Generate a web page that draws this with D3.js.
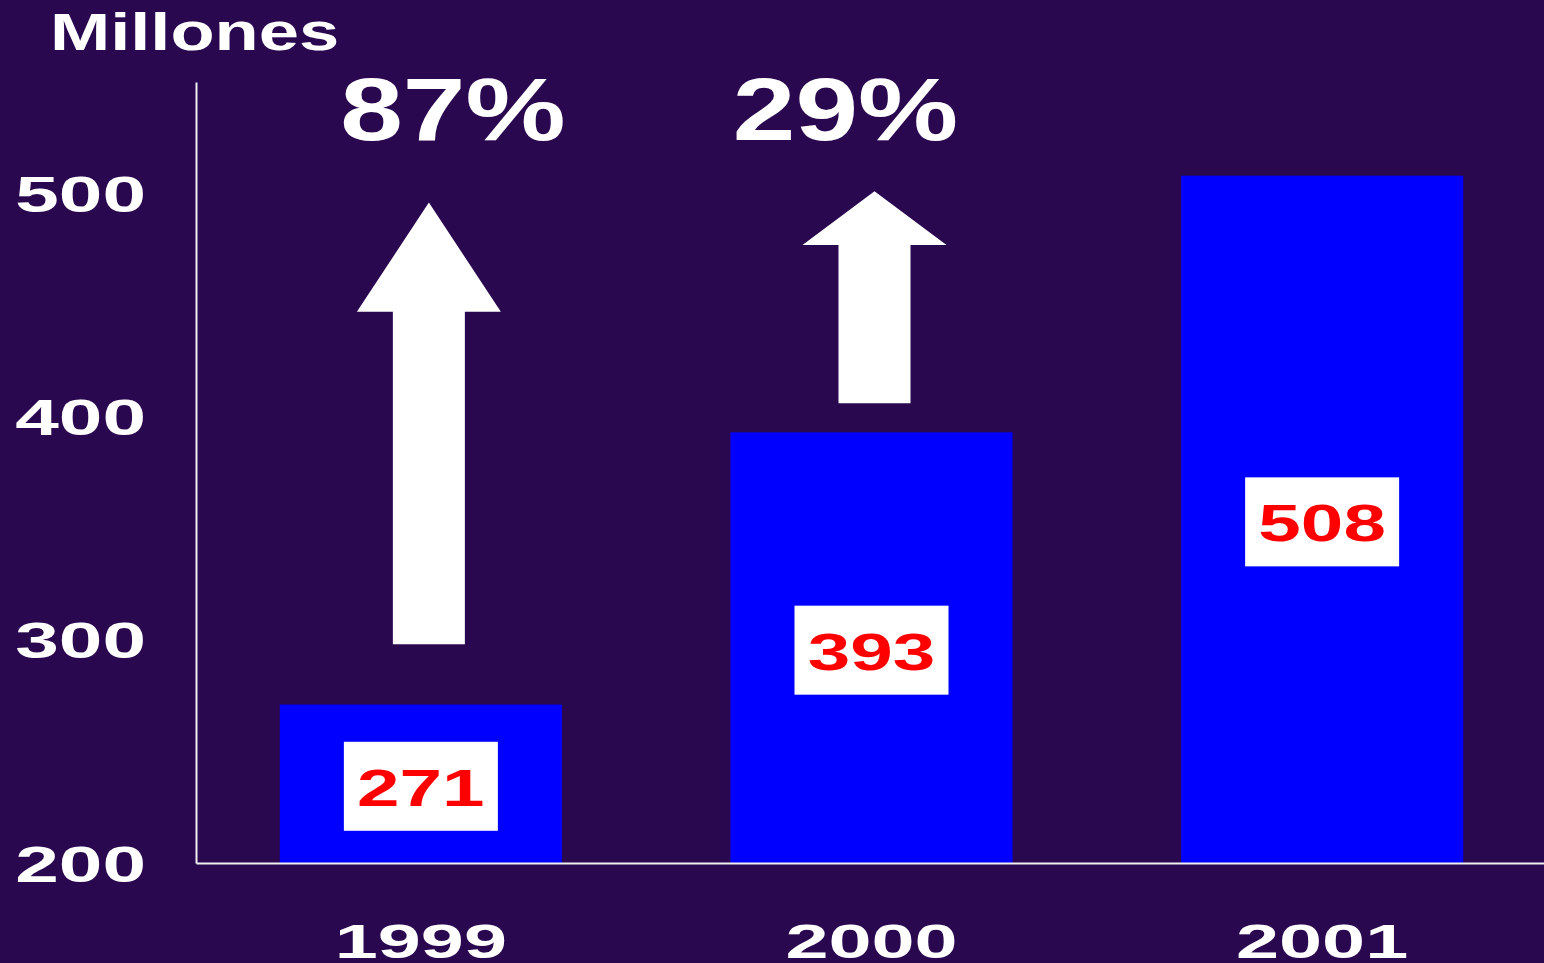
<!DOCTYPE html>
<html><head><meta charset="utf-8">
<script src="https://cdn.jsdelivr.net/npm/d3@7"></script>
<style>html,body{margin:0;padding:0;background:#2a0850;overflow:hidden}</style>
</head><body><svg id="c" width="1544" height="963"></svg>
<script>
// ---- data ----
const years = ["1999", "2000", "2001"];
const values = [271, 393, 508];
const yTicks = [200, 300, 400, 500];
const yLabel = "Millones";
const growthYears = ["1999", "2000"];
const growthLabels = ["87%", "29%"];
const arrowBase = [298, 406];
const arrowHeadBase = [447, 477];
const arrowTip = [496, 501];

// ---- layout ----
const W = 1544, H = 963;
const FONT = "'Liberation Sans', Arial, sans-serif";
const svg = d3.select("#c");
svg.append("rect").attr("width", W).attr("height", H).attr("fill", "#2a0850");

const x = d3.scaleBand().domain(years).range([196, 1547]).paddingInner(0.374).paddingOuter(0.186);
const y = d3.scaleLinear().domain([200, 550]).range([863, 82]);
const cx = d => x(d) + x.bandwidth() / 2;

// bars
svg.append("g").selectAll("rect").data(years).join("rect")
  .attr("x", d => x(d)).attr("width", x.bandwidth())
  .attr("y", (d, i) => y(values[i])).attr("height", (d, i) => y(200) - y(values[i]))
  .attr("fill", "#0000ff");

// axes
const yAxis = svg.append("g").attr("transform", "translate(196,0)")
  .call(d3.axisLeft(y).tickValues(yTicks).tickSize(0).tickPadding(0));
yAxis.select(".domain").attr("stroke", "#f0f0f0").attr("stroke-width", 2);
yAxis.selectAll(".tick text")
  .attr("x", 0).attr("dy", null)
  .attr("text-anchor", "end")
  .attr("transform", "translate(-50,18) scale(1.6,1)")
  .attr("fill", "#fff").attr("font-family", FONT).attr("font-weight", "bold").attr("font-size", 49);

const xAxis = svg.append("g").attr("transform", "translate(0,863)")
  .call(d3.axisBottom(x).tickSize(0).tickPadding(0));
xAxis.select(".domain").attr("stroke", "#f0f0f0").attr("stroke-width", 2);
xAxis.selectAll(".tick text")
  .attr("y", 0).attr("dy", null)
  .attr("text-anchor", "middle")
  .attr("transform", "translate(0,95) scale(1.58,1)")
  .attr("fill", "#fff").attr("font-family", FONT).attr("font-weight", "bold").attr("font-size", 49);

// y label
svg.append("text").text(yLabel)
  .attr("transform", "translate(50,50) scale(1.39,1)")
  .attr("fill", "#fff").attr("font-family", FONT).attr("font-weight", "bold").attr("font-size", 52);

// value boxes
const lbl = svg.append("g").selectAll("g").data(years).join("g")
  .attr("transform", (d, i) => `translate(${cx(d)},${(y(values[i]) + y(200)) / 2 + 2})`);
lbl.append("rect").attr("x", -77).attr("y", -44).attr("width", 154).attr("height", 89).attr("fill", "#fff");
lbl.append("text").text((d, i) => values[i])
  .attr("text-anchor", "middle").attr("transform", "translate(0,20) scale(1.47,1)")
  .attr("fill", "#ff0000").attr("font-family", FONT).attr("font-weight", "bold").attr("font-size", 52);

// growth arrows
const shaftHalf = 36, headHalf = 72;
const arrowOffset = [8, 3];
svg.append("g").selectAll("path").data(growthYears).join("path")
  .attr("d", (d, i) => {
    const c = cx(d) + arrowOffset[i];
    const b = y(arrowBase[i]), hb = y(arrowHeadBase[i]), t = y(arrowTip[i]);
    return `M${c - shaftHalf},${b}L${c - shaftHalf},${hb}L${c - headHalf},${hb}L${c},${t}L${c + headHalf},${hb}L${c + shaftHalf},${hb}L${c + shaftHalf},${b}Z`;
  })
  .attr("fill", "#fff");

// growth labels
const pctOffset = [32, -26];
svg.append("g").selectAll("text").data(growthYears).join("text")
  .text((d, i) => growthLabels[i])
  .attr("text-anchor", "middle")
  .attr("transform", (d, i) => `translate(${cx(d) + pctOffset[i]},140) scale(1.28,1)`)
  .attr("fill", "#fff").attr("font-family", FONT).attr("font-weight", "bold").attr("font-size", 88);
</script>
</body></html>
